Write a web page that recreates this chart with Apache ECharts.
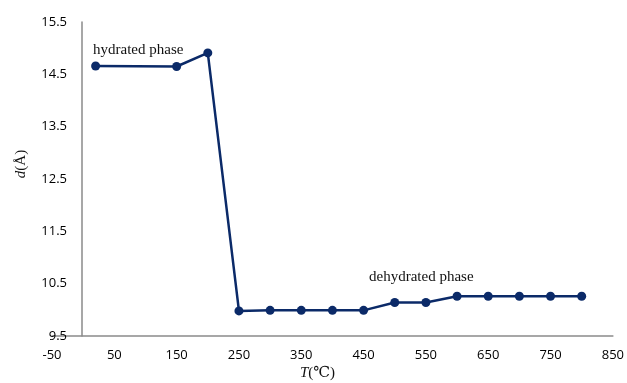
<!DOCTYPE html>
<html><head><meta charset="utf-8">
<script src="https://cdn.jsdelivr.net/npm/echarts@6/dist/echarts.min.js"></script>
<style>html,body{margin:0;padding:0;background:#fff}#c{width:627px;height:383px}</style>
</head><body><div id="c"></div>
<script>
const temperatures = [20, 150, 200, 250, 300, 350, 400, 450, 500, 550, 600, 650, 700, 750, 800];
const spacings = [14.66, 14.65, 14.91, 9.98, 9.99, 9.99, 9.99, 9.99, 10.14, 10.14, 10.26, 10.26, 10.26, 10.26, 10.26];
const xTicks = [-50, 50, 150, 250, 350, 450, 550, 650, 750, 850];
const yTicks = [9.5, 10.5, 11.5, 12.5, 13.5, 14.5, 15.5];
const annotations = ['hydrated phase', 'dehydrated phase'];

const chart = echarts.init(document.getElementById('c'));
const labelFont = {color: '#000', fontSize: 13, fontFamily: 'Open Sans, Liberation Sans, sans-serif'};
const serif = '"Liberation Serif", "DejaVu Serif", serif';
chart.setOption({
  animation: false,
  grid: [
    {left: 52, right: 14, top: 22, bottom: 47},
    {left: 82, right: 14, top: 22, bottom: 47}
  ],
  xAxis: [{
    type: 'value', min: xTicks[0], max: xTicks[xTicks.length - 1], interval: 100, gridIndex: 0,
    axisLine: {show: true, onZero: false, lineStyle: {color: '#8a8a8a', width: 1.5}},
    axisTick: {show: false},
    splitLine: {show: false},
    axisLabel: Object.assign({margin: 13}, labelFont)
  }, {
    type: 'value', min: 0, max: xTicks[xTicks.length - 1], gridIndex: 1, show: false
  }],
  yAxis: [{
    type: 'value', min: yTicks[0], max: yTicks[yTicks.length - 1], interval: 1, gridIndex: 0, show: false
  }, {
    type: 'value', min: yTicks[0], max: yTicks[yTicks.length - 1], interval: 1, gridIndex: 1,
    axisLine: {show: true, onZero: false, lineStyle: {color: '#8a8a8a', width: 1.5}},
    axisTick: {show: false},
    splitLine: {show: false},
    axisLabel: Object.assign({margin: 15, formatter: v => v.toFixed(1)}, labelFont),
    name: '{i|d}{n|(Å)}', nameLocation: 'middle', nameRotate: 90, nameGap: 53,
    nameTextStyle: {
      color: '#111', padding: [0, 0, 0, 30],
      rich: {
        i: {fontStyle: 'italic', fontSize: 15, fontFamily: serif, color: '#111'},
        n: {fontSize: 15, fontFamily: serif, color: '#111'}
      }
    }
  }],
  series: [{
    type: 'line', xAxisIndex: 0, yAxisIndex: 0,
    data: temperatures.map((t, i) => [t, spacings[i]]),
    symbol: 'circle', symbolSize: 9,
    lineStyle: {color: '#0b2a68', width: 2.5},
    itemStyle: {color: '#0b2a68'}
  }],
  graphic: [
    {type: 'text', left: 93, top: 43, style: {text: annotations[0], fontSize: 15, fontFamily: serif, fill: '#111'}},
    {type: 'text', left: 369, top: 270, style: {text: annotations[1], fontSize: 15, fontFamily: serif, fill: '#111'}},
    {type: 'text', left: 300, top: 366, style: {
      text: '{i|T}{n|(℃)}', fill: '#111',
      rich: {
        i: {fontStyle: 'italic', fontSize: 15, fontFamily: serif, fill: '#111'},
        n: {fontSize: 15, fontFamily: serif, fill: '#111'}
      }
    }}
  ]
});
</script></body></html>
